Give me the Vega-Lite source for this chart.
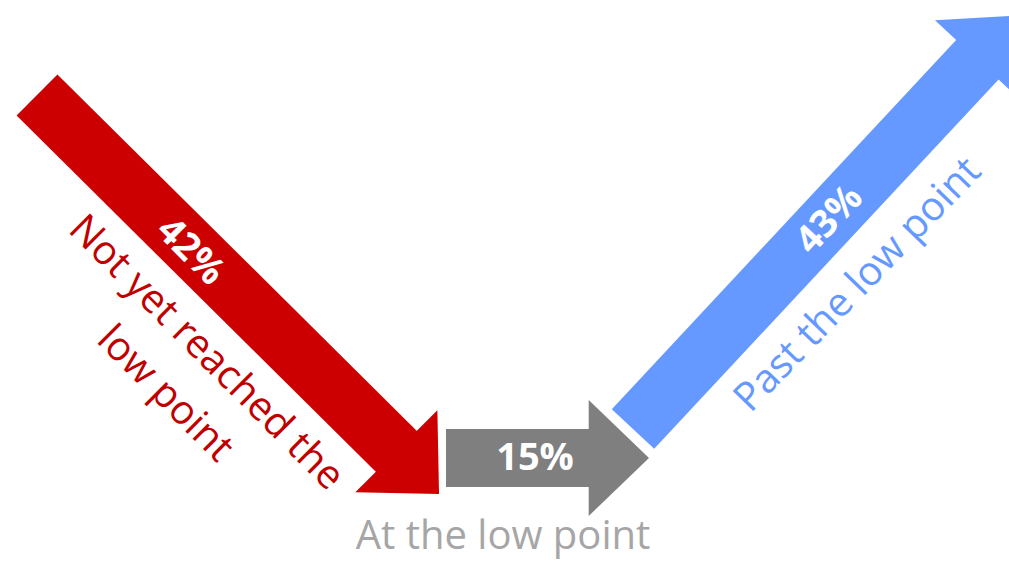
{
  "$schema": "https://vega.github.io/schema/vega-lite/v6.json",
  "width": 1009,
  "height": 561,
  "autosize": {"type": "none"},
  "padding": 0,
  "background": "white",
  "config": {"view": {"stroke": null}},
  "data": {
    "values": [
      {"group": "Not yet reached the low point", "label": "Not yet reached the\nlow point", "share": 0.42, "x": 37, "y": 95, "x2": 398, "y2": 453, "dir": 45, "tx": 190, "ty": 252, "lx": 206, "ly": 353, "ldir": 45},
      {"group": "At the low point", "label": "At the low point", "share": 0.15, "x": 446, "y": 458, "x2": 591, "y2": 458, "dir": 0, "tx": 535, "ty": 459, "lx": 503, "ly": 537, "ldir": 0},
      {"group": "Past the low point", "label": "Past the low point", "share": 0.43, "x": 633, "y": 429, "x2": 979, "y2": 58, "dir": -47, "tx": 830, "ty": 220, "lx": 858, "ly": 285, "ldir": -46}
    ]
  },
  "resolve": {"scale": {"color": "independent"}},
  "layer": [
    {
      "mark": {"type": "rule", "strokeWidth": 58, "strokeCap": "butt"},
      "encoding": {
        "x": {"field": "x", "type": "quantitative", "scale": {"domain": [0, 1009], "nice": false, "zero": false}, "axis": null},
        "y": {"field": "y", "type": "quantitative", "scale": {"domain": [0, 561], "nice": false, "zero": false, "reverse": true}, "axis": null},
        "x2": {"field": "x2"},
        "y2": {"field": "y2"},
        "color": {"field": "group", "type": "nominal", "scale": {"domain": ["Not yet reached the low point", "At the low point", "Past the low point"], "range": ["#cc0000", "#7f7f7f", "#6699ff"]}, "legend": null}
      }
    },
    {
      "mark": {"type": "point", "shape": "M-0.04,-1L1,0L-0.04,1Z", "filled": true, "opacity": 1, "size": 13456, "strokeWidth": 0},
      "encoding": {
        "x": {"field": "x2", "type": "quantitative", "scale": {"domain": [0, 1009], "nice": false, "zero": false}, "axis": null},
        "y": {"field": "y2", "type": "quantitative", "scale": {"domain": [0, 561], "nice": false, "zero": false, "reverse": true}, "axis": null},
        "angle": {"field": "dir", "type": "quantitative", "scale": null},
        "color": {"field": "group", "type": "nominal", "scale": {"domain": ["Not yet reached the low point", "At the low point", "Past the low point"], "range": ["#cc0000", "#7f7f7f", "#6699ff"]}, "legend": null}
      }
    },
    {
      "mark": {"type": "text", "font": "Open Sans", "fontSize": 38, "fontWeight": "bold", "color": "white", "align": "center", "baseline": "middle"},
      "encoding": {
        "x": {"field": "tx", "type": "quantitative", "scale": {"domain": [0, 1009], "nice": false, "zero": false}, "axis": null},
        "y": {"field": "ty", "type": "quantitative", "scale": {"domain": [0, 561], "nice": false, "zero": false, "reverse": true}, "axis": null},
        "angle": {"field": "dir", "type": "quantitative", "scale": null},
        "text": {"field": "share", "type": "quantitative", "format": ".0%"}
      }
    },
    {
      "mark": {"type": "text", "font": "Open Sans", "fontSize": 40, "align": "center", "baseline": "middle", "lineBreak": "\n", "lineHeight": 58},
      "encoding": {
        "x": {"field": "lx", "type": "quantitative", "scale": {"domain": [0, 1009], "nice": false, "zero": false}, "axis": null},
        "y": {"field": "ly", "type": "quantitative", "scale": {"domain": [0, 561], "nice": false, "zero": false, "reverse": true}, "axis": null},
        "angle": {"field": "ldir", "type": "quantitative", "scale": null},
        "text": {"field": "label", "type": "nominal"},
        "color": {"field": "group", "type": "nominal", "scale": {"domain": ["Not yet reached the low point", "At the low point", "Past the low point"], "range": ["#c00000", "#a6a6a6", "#6699ff"]}, "legend": null}
      }
    }
  ]
}
